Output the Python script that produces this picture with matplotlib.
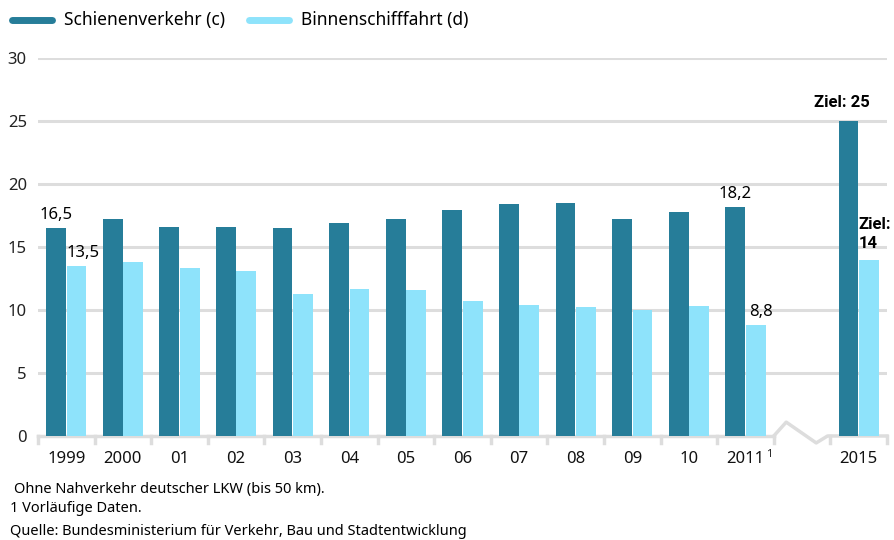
import numpy as np
import matplotlib.pyplot as plt

# ----------------------------
# Data
# ----------------------------
years = ["1999", "2000", "01", "02", "03", "04", "05", "06", "07", "08", "09", "10", "2011", "2015"]
slots = [0, 1, 2, 3, 4, 5, 6, 7, 8, 9, 10, 11, 12, 14]   # 13 is the axis break
schiene = [16.5, 17.2, 16.6, 16.6, 16.5, 16.9, 17.2, 17.9, 18.4, 18.5, 17.2, 17.8, 18.2, 25.0]
binnen = [13.5, 13.8, 13.3, 13.1, 11.3, 11.7, 11.6, 10.7, 10.4, 10.2, 10.0, 10.3, 8.8, 14.0]
yticks = [0, 5, 10, 15, 20, 25, 30]

c_dark = "#267d99"
c_light = "#8ee3fb"
c_grid = "#dddddd"

plt.rcParams['font.family'] = ['Noto Sans', 'DejaVu Sans']
bold_family = ['Roboto', 'DejaVu Sans']

fig = plt.figure(figsize=(8.95, 5.4), dpi=100)
ax = fig.add_axes([0.0425, 0.1926, 0.9485, 0.70])

x = np.array(slots, dtype=float)
w = 0.35
ax.bar(x - 0.18, schiene, width=w, color=c_dark, zorder=3)
ax.bar(x + 0.18, binnen, width=w, color=c_light, zorder=3)

ax.set_xlim(-0.5, 14.5)
ax.set_ylim(0, 30)

# grid
for v in yticks[1:]:
    ax.axhline(v, color=c_grid, lw=2.2, zorder=1)
ax.set_yticks(yticks)
ax.set_yticklabels([str(v) for v in yticks], fontsize=12, color="#222222")
ax.tick_params(axis="y", length=0, pad=8)

# x axis with break
ax.set_xticks([])
ax.plot([-0.5, 12.5], [0, 0], color=c_grid, lw=2.5, zorder=2, clip_on=False)
ax.plot([12.5, 12.72, 13.25, 13.45, 14.5], [0, 1.1, -0.55, 0, 0],
        color=c_grid, lw=2.5, zorder=2, clip_on=False)
for t in list(np.arange(-0.5, 12.6, 1.0)) + [13.5, 14.5]:
    ax.plot([t, t], [0, -0.55], color=c_grid, lw=2.5, zorder=2, clip_on=False)

for xi, lab in zip(x, years):
    ax.text(xi, -1.2, lab, ha="center", va="top", fontsize=12, color="#111111")
    if lab == "2011":
        ax.text(xi + 0.36, -1.05, "1", ha="left", va="top", fontsize=8, color="#111111")

for s in ax.spines.values():
    s.set_visible(False)

# value labels
ax.text(x[0] - 0.18, schiene[0] + 0.4, "16,5", ha="center", va="bottom", fontsize=12)
ax.text(x[0] + 0.3, binnen[0] + 0.4, "13,5", ha="center", va="bottom", fontsize=12)
ax.text(x[12] - 0.18, schiene[12] + 0.4, "18,2", ha="center", va="bottom", fontsize=12)
ax.text(x[12] + 0.27, binnen[12] + 0.4, "8,8", ha="center", va="bottom", fontsize=12)
ax.text(x[13] - 0.3, schiene[13] + 0.9, "Ziel: 25", ha="center", va="bottom",
        fontsize=12, fontweight="bold", family=bold_family)
ax.text(x[13] + 0.0, binnen[13] + 0.7, "Ziel:\n14", ha="left", va="bottom",
        fontsize=12, fontweight="bold", family=bold_family, linespacing=1.3)

# legend
fig.add_artist(plt.Line2D([0.013, 0.058], [0.963, 0.963], color=c_dark, lw=5,
                          solid_capstyle="round"))
fig.text(0.071, 0.963, "Schienenverkehr (c)", va="center", fontsize=12.5)
fig.add_artist(plt.Line2D([0.278, 0.323], [0.963, 0.963], color=c_light, lw=5,
                          solid_capstyle="round"))
fig.text(0.336, 0.963, "Binnenschifffahrt (d)", va="center", fontsize=12.5)

# footnotes
fig.text(0.016, 0.093, "Ohne Nahverkehr deutscher LKW (bis 50 km).", va="center", fontsize=10.5)
fig.text(0.011, 0.058, "1 Vorläufige Daten.", va="center", fontsize=10.5)
fig.text(0.011, 0.016, "Quelle: Bundesministerium für Verkehr, Bau und Stadtentwicklung",
         va="center", fontsize=10.5)

fig.savefig("out.png", dpi=100)
